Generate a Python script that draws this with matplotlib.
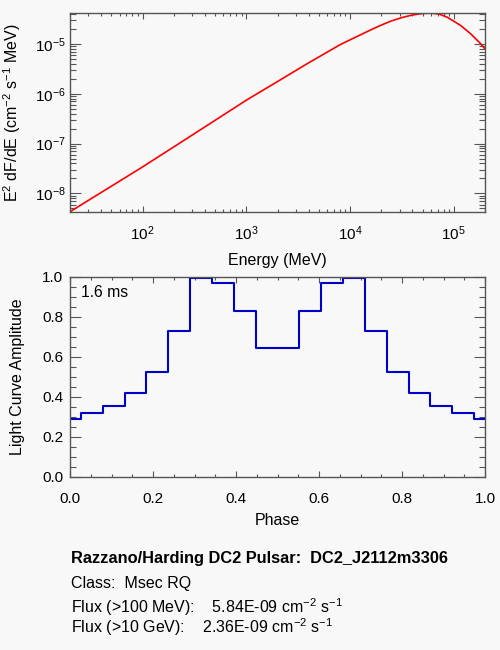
import numpy as np
import matplotlib
matplotlib.use("Agg")
import matplotlib.pyplot as plt
from matplotlib.ticker import MultipleLocator, LogLocator, NullFormatter, FormatStrFormatter

plt.rcParams['font.family'] = ['Liberation Sans', 'DejaVu Sans']
plt.rcParams['mathtext.fontset'] = 'custom'
plt.rcParams['mathtext.rm'] = 'Liberation Sans'
plt.rcParams['mathtext.it'] = 'Liberation Sans:italic'
plt.rcParams['mathtext.bf'] = 'Liberation Sans:bold'
plt.rcParams['font.size'] = 11

# Spectrum (E^2 dF/dE)
energy_mev = [20, 100, 316, 1000, 1840, 3850, 8090, 15800, 19950, 25100, 31600,
              39800, 50100, 60300, 72400, 86900, 117000, 146000, 182000, 200000]
e2dfde = [4.3e-9, 3.4e-8, 1.58e-7, 7.4e-7, 1.58e-6, 3.98e-6, 9.7e-6, 1.9e-5,
          2.37e-5, 2.88e-5, 3.36e-5, 3.78e-5, 4.06e-5, 4.13e-5, 3.94e-5,
          3.4e-5, 2.32e-5, 1.58e-5, 1.0e-5, 7.9e-6]

# Light curve (histogram, 19 bins centred on k/19)
phase = [k / 19 for k in range(20)]
amplitude = [0.29, 0.318, 0.355, 0.42, 0.527, 0.73, 0.993, 0.968, 0.83, 0.643,
             0.643, 0.83, 0.968, 0.993, 0.73, 0.527, 0.42, 0.355, 0.318, 0.29]

title_line = "Razzano/Harding DC2 Pulsar:  DC2_J2112m3306"
class_line = "Class:  Msec RQ"
flux100 = "5.84E-09"
flux10g = "2.36E-09"
period_label = "1.6 ms"

bg = '#f8f8f8'
axc = '#555555'
lab_fs = 11.5
tick_fs = 11

fig = plt.figure(figsize=(5, 6.5), dpi=100, facecolor=bg)

def style(ax):
    ax.set_facecolor(bg)
    for s in ax.spines.values():
        s.set_color(axc)
        s.set_linewidth(1.0)
    ax.tick_params(which='both', direction='in', top=True, right=True, colors=axc,
                   labelcolor='black', labelsize=tick_fs, width=0.8)

# Top panel
ax1 = fig.add_axes([70/500, 1-212/650, 415/500, 199/650])
style(ax1)
ax1.plot(energy_mev, e2dfde, color='#ff0000', lw=1.2)
ax1.set_xscale('log')
ax1.set_yscale('log')
ax1.set_xlim(20, 2e5)
ax1.set_ylim(4.25e-9, 4.15e-5)
ax1.tick_params(axis='x', which='major', length=4, pad=9)
ax1.tick_params(axis='x', which='minor', length=2)
ax1.tick_params(axis='y', which='major', length=8, pad=3)
ax1.tick_params(axis='y', which='minor', length=4)
ax1.yaxis.set_minor_locator(LogLocator(base=10, subs=np.arange(2, 10)))
ax1.yaxis.set_minor_formatter(NullFormatter())
ax1.xaxis.set_minor_formatter(NullFormatter())
ax1.set_xlabel("Energy (MeV)", fontsize=lab_fs, labelpad=7)
ax1.set_ylabel(r"E$^{2}$ dF/dE (cm$^{-2}$ s$^{-1}$ MeV)", fontsize=lab_fs)
ax1.yaxis.set_label_coords(-0.113, 0.5)

# Bottom panel
ax2 = fig.add_axes([70/500, 1-477/650, 415/500, 200/650])
style(ax2)
ax2.step(phase, amplitude, where='mid', color='#0000c8', lw=1.5)
ax2.set_xlim(0, 1)
ax2.set_ylim(0, 1)
ax2.xaxis.set_major_locator(MultipleLocator(0.2))
ax2.xaxis.set_minor_locator(MultipleLocator(0.05))
ax2.yaxis.set_major_locator(MultipleLocator(0.2))
ax2.yaxis.set_minor_locator(MultipleLocator(0.05))
ax2.xaxis.set_major_formatter(FormatStrFormatter('%.1f'))
ax2.yaxis.set_major_formatter(FormatStrFormatter('%.1f'))
ax2.tick_params(axis='x', which='major', length=4, pad=11)
ax2.tick_params(axis='x', which='minor', length=2)
ax2.tick_params(axis='y', which='major', length=8, pad=5)
ax2.tick_params(axis='y', which='minor', length=4)
ax2.set_xlabel("Phase", fontsize=lab_fs, labelpad=5)
ax2.set_ylabel("Light Curve Amplitude", fontsize=lab_fs)
ax2.yaxis.set_label_coords(-0.108, 0.5)
ax2.text(0.026, 0.90, period_label, transform=ax2.transAxes, fontsize=11.3, va='baseline')

# Info text
x0 = 70.7/500
fig.text(x0, 1-563.3/650, title_line, fontsize=11.8, fontweight='bold', va='baseline')
fig.text(x0, 1-588/650, class_line, fontsize=lab_fs, va='baseline')
fig.text(x0, 1-612.7/650, "Flux (>100 MeV):    " + flux100 + r" cm$^{-2}$ s$^{-1}$",
         fontsize=lab_fs, va='baseline')
fig.text(x0, 1-632.5/650, "Flux (>10 GeV):    " + flux10g + r" cm$^{-2}$ s$^{-1}$",
         fontsize=lab_fs, va='baseline')

fig.savefig("out.png", dpi=100, facecolor=bg)
